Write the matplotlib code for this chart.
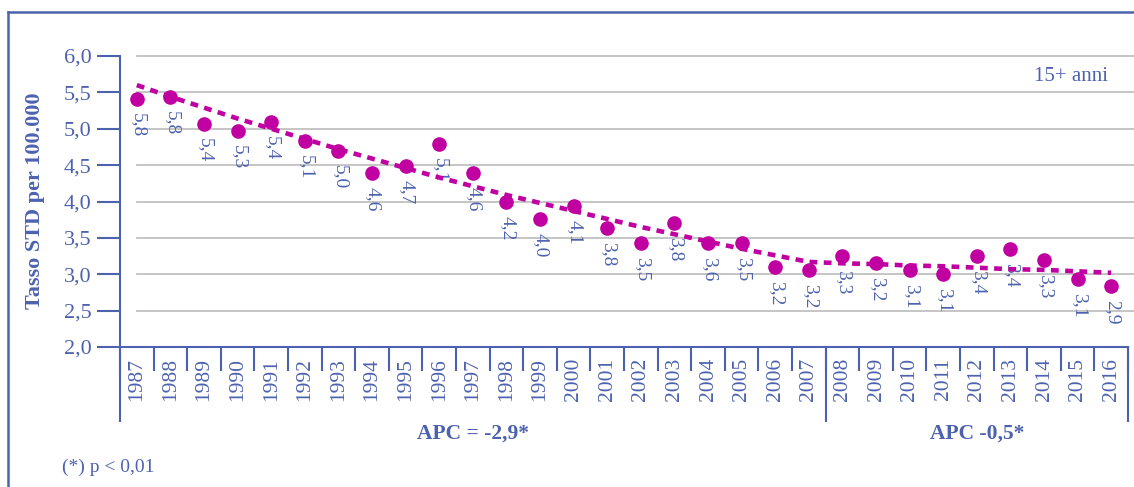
import numpy as np
import matplotlib.pyplot as plt
from matplotlib.lines import Line2D
import matplotlib.transforms as mtransforms

plt.rcParams['font.family'] = ['Liberation Serif', 'DejaVu Serif']

# dati
anni = [str(a) for a in range(1987, 2017)]
tasso = [5.41, 5.43, 5.06, 4.97, 5.09, 4.83, 4.69, 4.39, 4.49, 4.79,
         4.39, 3.99, 3.76, 3.94, 3.63, 3.43, 3.70, 3.43, 3.43, 3.10,
         3.06, 3.25, 3.15, 3.06, 3.00, 3.25, 3.35, 3.20, 2.93, 2.84]
etichette = ['5,8', '5,8', '5,4', '5,3', '5,4', '5,1', '5,0', '4,6', '4,7', '5,1',
             '4,6', '4,2', '4,0', '4,1', '3,8', '3,5', '3,8', '3,6', '3,5', '3,2',
             '3,2', '3,3', '3,2', '3,1', '3,1', '3,4', '3,4', '3,3', '3,1', '2,9']
trend = [5.60, 5.44, 5.29, 5.14, 5.00, 4.86, 4.72, 4.59, 4.46, 4.33,
         4.21, 4.09, 3.98, 3.87, 3.76, 3.65, 3.55, 3.45, 3.35, 3.26,
         3.17, 3.15, 3.14, 3.12, 3.11, 3.09, 3.07, 3.06, 3.04, 3.02]
gruppi = ['APC = -2,9*', 'APC -0,5*']
n_gruppo1 = 21  # 1987-2007

blu = '#4D62AE'
magenta = '#C000A0'

fig = plt.figure(figsize=(11.34, 4.87), dpi=100)
ax = fig.add_axes([120/1134, 1-347/487, 1008/1134, 291/487])

x = np.arange(len(anni))
ax.plot(x, tasso, 'o', color=magenta, markersize=9.5, zorder=3)
ax.plot(x, trend, color=magenta, lw=3.3, dashes=(1.7, 1.4), dash_capstyle='butt', zorder=4)

for xi, yi, lab in zip(x, tasso, etichette):
    ax.annotate(lab, (xi, yi), xytext=(1, -10), textcoords='offset points',
                rotation=270, ha='center', va='top', fontsize=14, color=blu)

# griglia
for yv in np.arange(2.5, 6.01, 0.5):
    ax.plot([0, 29.7], [yv, yv], color='#C0C0C0', lw=1.3, zorder=1, clip_on=False)

ax.set_xlim(-0.5, 29.5)
ax.set_ylim(2, 6)
ax.set_yticks(np.arange(2, 6.01, 0.5))
ax.set_yticklabels([f'{v:.1f}'.replace('.', ',') for v in np.arange(2, 6.01, 0.5)])
ax.tick_params(axis='y', length=16.5, width=1.5, color=blu, labelcolor=blu,
               labelsize=16, pad=4)

ax.set_xticks(x)
ax.set_xticklabels(anni, rotation=90, va='top')
ax.set_xticks(np.arange(-0.5, 30, 1), minor=True)
ax.tick_params(axis='x', which='major', length=0, pad=8, labelcolor=blu, labelsize=15.5)
ax.tick_params(axis='x', which='minor', length=17, width=1.5, color=blu)

for s in ['top', 'right']:
    ax.spines[s].set_visible(False)
for s in ['left', 'bottom']:
    ax.spines[s].set_color(blu)
    ax.spines[s].set_linewidth(1.5)

# separatori e gruppi
trans = mtransforms.blended_transform_factory(ax.transData, ax.transAxes)
for xs in [-0.5, n_gruppo1 - 0.5, len(anni) - 0.5]:
    ax.plot([xs, xs], [0, -0.254], color=blu, lw=1.5, transform=trans, clip_on=False)
ax.text((n_gruppo1 - 1) / 2, -0.296, gruppi[0], transform=trans, ha='center', va='center',
        fontsize=15.5, fontweight='bold', color=blu)
ax.text((n_gruppo1 + len(anni) - 1) / 2, -0.296, gruppi[1], transform=trans, ha='center',
        va='center', fontsize=15.5, fontweight='bold', color=blu)

ax.text(0.98, 0.928, '15+ anni', transform=ax.transAxes, ha='right', va='center',
        fontsize=15, color=blu)

fig.text(35/1134, 1-201/487, 'Tasso STD per 100.000', rotation=90, ha='center', va='center',
         fontsize=16, fontweight='bold', color=blu)
fig.text(62/1134, 1-467/487, '(*) p < 0,01', ha='left', va='center', fontsize=14, color=blu)

# cornice
fig.add_artist(Line2D([8/1134, 1], [1-12/487, 1-12/487], color=blu, lw=1.8))
fig.add_artist(Line2D([8/1134, 8/1134], [0, 1-12/487], color=blu, lw=1.8))

fig.savefig('out.png', dpi=100)
